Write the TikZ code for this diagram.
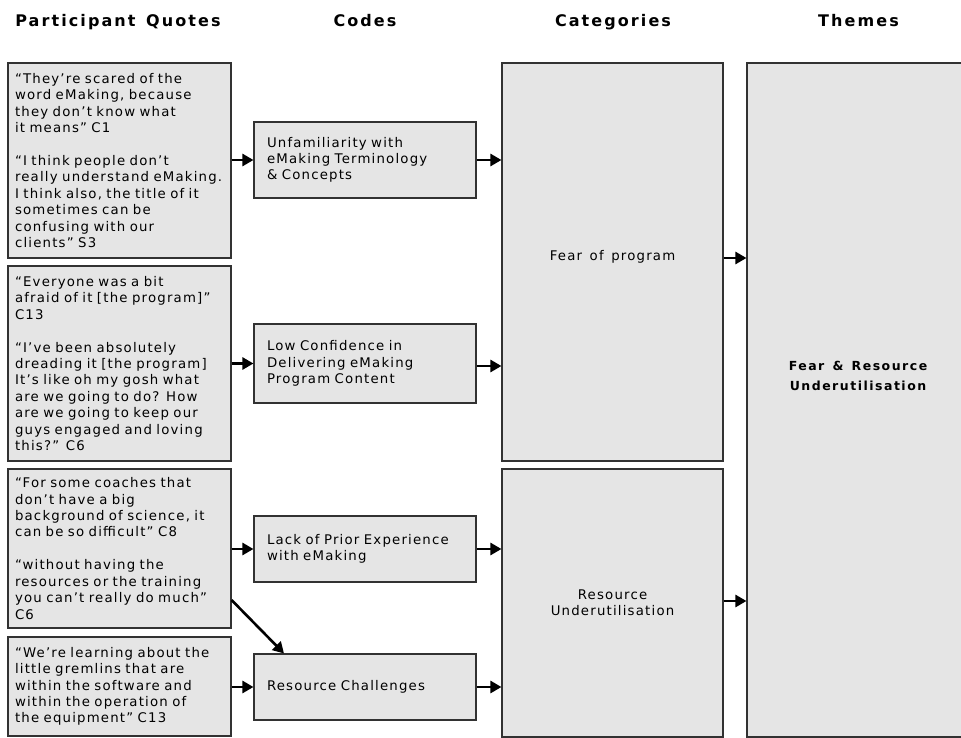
\documentclass[tikz,border=0pt]{standalone}
\usepackage{fontspec}
\usetikzlibrary{arrows.meta}
\newfontfamily\qfont[LetterSpace=9,WordSpace=1.4]{DejaVu Sans}
\newfontfamily\hfont[LetterSpace=13,WordSpace=1.4]{DejaVu Sans Bold}
\newfontfamily\tfont[LetterSpace=12,WordSpace=1.4]{DejaVu Sans Bold}
\definecolor{boxfill}{RGB}{229,229,229}
\definecolor{boxline}{RGB}{50,50,50}
\tikzset{
  box/.style={draw=boxline, fill=boxfill, line width=1.1pt, rectangle, inner sep=0pt},
  qbox/.style={box, inner xsep=7pt, text width=209pt, align=left,
    font=\qfont\fontsize{13.3}{16.4}\selectfont},
  cbox/.style={box, inner xsep=13pt, text width=196pt, align=left,
    font=\qfont\fontsize{13.3}{16.2}\selectfont},
  catbox/.style={box, align=center, font=\qfont\fontsize{13.3}{16.2}\selectfont},
  head/.style={anchor=base, font=\hfont\fontsize{16}{19}\selectfont},
  arr/.style={line width=2.6pt, -{Triangle[length=11pt,width=12pt]}},
}
\begin{document}
\begin{tikzpicture}[x=1pt,y=-1pt]
\useasboundingbox (0,0) rectangle (961,738);
\fill[white] (0,0) rectangle (961,738);
% headers
\node[head] (h1) at (118,27) {Participant Quotes};
\node[head] (h2) at (365,27) {Codes};
\node[head] (h3) at (613,27) {Categories};
\node[head] (h4) at (858.5,27) {Themes};
% quotes
\node[qbox, minimum height=195pt] (q1) at (119.5,160.5) {“They’re scared of the\\
word eMaking, because\\
they don’t know what\\
it means” C1\\[16.6pt]
“I think people don’t\\
really understand eMaking.\\
I think also, the title of it\\
sometimes can be\\
confusing with our\\
clients” S3};
\node[qbox, minimum height=195pt] (q2) at (119.5,363.5) {“Everyone was a bit\\
afraid of it [the program]”\\
C13\\[16.6pt]
“I’ve been absolutely\\
dreading it [the program]\\
It’s like oh my gosh what\\
are we going to do? How\\
are we going to keep our\\
guys engaged and loving\\
this?” C6};
\node[qbox, minimum height=159pt] (q3) at (119.5,548.5) {“For some coaches that\\
don’t have a big\\
background of science, it\\
can be so difficult” C8\\[16.6pt]
“without having the\\
resources or the training\\
you can’t really do much”\\
C6};
\node[qbox, minimum height=99pt] (q4) at (119.5,686.5) {“We’re learning about the\\
little gremlins that are\\
within the software and\\
within the operation of\\
the equipment” C13};
% codes
\node[cbox, minimum height=76pt] (c1) at (365,160) {Unfamiliarity with\\eMaking Terminology\\\& Concepts};
\node[cbox, minimum height=79pt] (c2) at (365,363.5) {Low Confidence in\\Delivering eMaking\\Program Content};
\node[cbox, minimum height=66pt] (c3) at (365,549) {Lack of Prior Experience\\with eMaking};
\node[cbox, minimum height=66pt] (c4) at (365,687) {Resource Challenges};
% categories
\node[catbox, minimum width=221pt, minimum height=398pt] (k1) at (612.5,262) {\raisebox{5pt}[\height][\depth]{Fear of program}};
\node[catbox, minimum width=221pt, minimum height=268pt] (k2) at (612.5,603) {Resource\\Underutilisation};
% theme
\node[box, minimum width=222pt, minimum height=674pt] (t) at (858,400) {};
\node[align=center, font=\tfont\fontsize{12.5}{20}\selectfont] (tl) at (858,376) {Fear \& Resource\\Underutilisation};
% arrows
\draw[arr] (q1.east |- c1.west) -- (c1.west);
\draw[arr] (q2.east |- c2.west) -- (c2.west);
\draw[arr] (q3.east |- c3.west) -- (c3.west);
\draw[arr] (q4.east |- c4.west) -- (c4.west);
\draw[arr] ([yshift=-51.5pt]q3.east) -- ([xshift=-81pt]c4.north);
\draw[arr] (c1.east) -- (c1.east -| k1.west);
\draw[arr] ([yshift=-2.5pt]c2.east) -- ([yshift=-2.5pt]c2.east -| k1.west);
\draw[arr] (c3.east) -- (c3.east -| k2.west);
\draw[arr] (c4.east) -- (c4.east -| k2.west);
\draw[arr] ([yshift=4pt]k1.east) -- ([yshift=4pt]k1.east -| t.west);
\draw[arr] ([yshift=2pt]k2.east) -- ([yshift=2pt]k2.east -| t.west);
\end{tikzpicture}
\end{document}
